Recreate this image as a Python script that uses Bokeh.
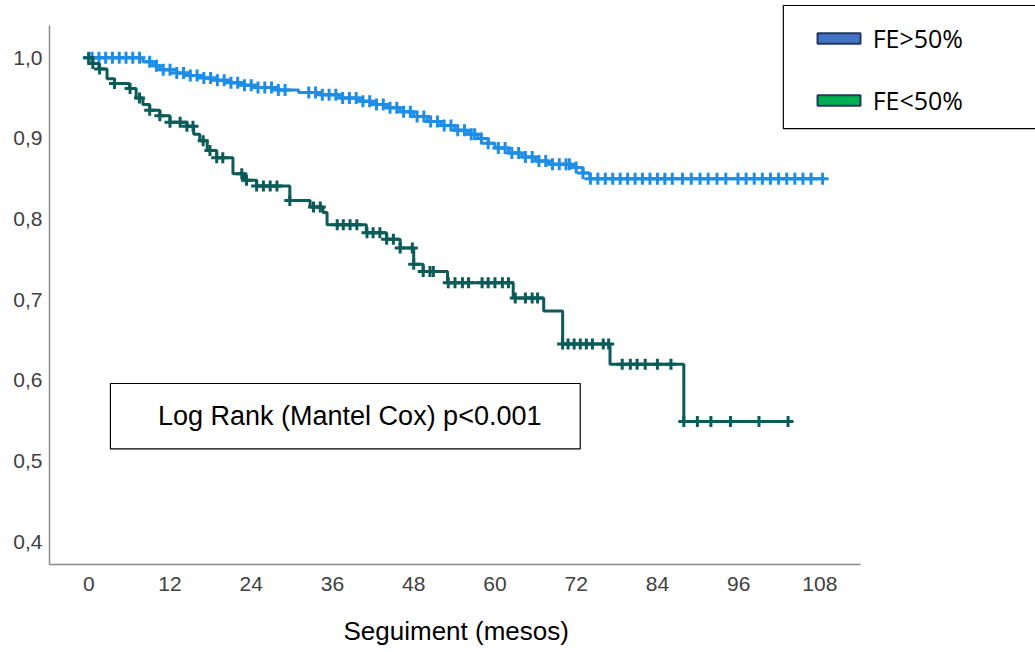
import numpy as np
from bokeh.plotting import figure
from bokeh.models import (Range1d, FixedTicker, BoxAnnotation, Label, ColumnDataSource,
                          Title)
from bokeh.embed import file_html
from bokeh.resources import INLINE

# ---- data ----
x_ticks = [0, 12, 24, 36, 48, 60, 72, 84, 96, 108]
y_ticks = [0.4, 0.5, 0.6, 0.7, 0.8, 0.9, 1.0]
y_tick_labels = ["0,4", "0,5", "0,6", "0,7", "0,8", "0,9", "1,0"]

# FE>50% : step times and survival
fe_hi_time = [0, 8, 9.5, 10.5, 13, 15, 17, 19, 21, 23, 25, 28, 31, 34, 37, 40, 42, 44,
              46, 48, 50, 52, 54, 56, 57.5, 59, 60, 62, 64, 66, 68, 71.5, 73, 74, 108.4]
fe_hi_surv = [1.0, 0.995, 0.99, 0.985, 0.981, 0.978, 0.975, 0.972, 0.969, 0.966, 0.963,
              0.96, 0.957, 0.954, 0.95, 0.946, 0.942, 0.938, 0.933, 0.927, 0.921, 0.916,
              0.91, 0.905, 0.9, 0.894, 0.888, 0.882, 0.877, 0.872, 0.868, 0.864, 0.857,
              0.85, 0.85]
fe_hi_censored = [0, 0.5, 1.5, 2.5, 3.5, 4.5, 5.5, 6.5, 7.5, 9, 10, 11, 12, 13, 14, 15, 16,
                  17, 18, 19, 20, 21, 22, 23, 24, 25, 26, 27, 28, 29, 32.5, 33.5, 34.5,
                  35.5, 36.5, 37.5, 38.5, 39.5, 40.5, 41.5, 42.5, 43.5, 44.5, 45.5, 46.5,
                  47.5, 48.5, 49.5, 50.5, 51.5, 52.5, 53.5, 54.5, 55.5, 56.5, 57, 58, 59,
                  60.5, 61.5, 62.5, 63.5, 64.5, 65.5, 66.5, 67.5, 68.5, 69.5, 70.5, 71,
                  72, 73, 74.1, 75.2, 76.3, 77.4, 78.5, 79.6, 80.7, 81.8, 82.9, 84.0, 85.1,
                  86.2, 87.7, 89.0, 90.3, 91.5, 92.8, 94.1, 95.9, 97.1, 98.3, 99.5, 100.7,
                  101.9, 103.1, 104.3, 105.5, 106.7, 108.4]

# FE<50%
fe_lo_time = [0, 0.6, 1.5, 2.7, 3.8, 6, 7, 8, 9, 10.5, 12, 14.5, 15.5, 16.4, 17.5, 18.9,
              21.3, 23, 24.8, 29.7, 32.7, 34.6, 35.2, 41, 44, 46, 48, 49.4, 53, 62.7,
              67.2, 70, 77, 87.9, 103.3]
fe_lo_surv = [1.0, 0.993, 0.986, 0.974, 0.968, 0.962, 0.95, 0.942, 0.935, 0.928, 0.92,
              0.915, 0.905, 0.897, 0.885, 0.876, 0.856, 0.848, 0.841, 0.823, 0.815, 0.808,
              0.793, 0.783, 0.775, 0.764, 0.744, 0.735, 0.721, 0.702, 0.686, 0.645,
              0.62, 0.549, 0.549]
fe_lo_censored = [0, 0.6, 1.6, 3.8, 6.1, 7.5, 9, 10.5, 12, 13.5, 14.5, 15.4, 16.9, 17.9,
                  18.9, 19.8, 22.6, 23.3, 24.8, 25.8, 26.8, 27.8, 29.7, 33.2, 34.2, 36.7,
                  37.6, 38.6, 39.6, 41.1, 42, 43, 44, 45, 46, 47.8, 48, 49.4, 50.4, 50.9,
                  53.1, 54.1, 55.2, 56.1, 58.1, 59, 60, 61.1, 62, 63, 64.5, 65.5, 66.3,
                  70, 70.8, 71.7, 72.6, 73.5, 74.4, 76, 76.8, 78.8, 80, 81, 82.2, 84, 86,
                  87.9, 89.9, 91.9, 94.8, 99, 103.3]

series_names = ["FE>50%", "FE<50%"]
line_colors = ["#1e8de6", "#0b5b58"]
legend_fill = ["#4472c4", "#00b050"]
x_title = "Seguiment (mesos)"


def surv_at(times, surv, t):
    idx = np.searchsorted(np.array(times), np.array(t), side="right") - 1
    return list(np.array(surv)[idx])


# frame covers the whole right/top area; axis lines limited with bounds
p = figure(width=1035, height=652, output_backend="svg", toolbar_location=None,
           x_range=Range1d(-5.8, 139.85), y_range=Range1d(0.3715, 1.071),
           min_border_left=49, min_border_right=0, min_border_top=0,
           min_border_bottom=88)
p.outline_line_color = None
p.xgrid.visible = False
p.ygrid.visible = False
p.background_fill_color = "white"
p.border_fill_color = "white"

for times, surv, cens, col, msize in [
        (fe_hi_time, fe_hi_surv, fe_hi_censored, line_colors[0], 12),
        (fe_lo_time, fe_lo_surv, fe_lo_censored, line_colors[1], 11)]:
    src = ColumnDataSource(dict(t=times, s=surv))
    p.step("t", "s", source=src, mode="after", line_color=col, line_width=3)
    csrc = ColumnDataSource(dict(t=cens, s=surv_at(times, surv, cens)))
    p.scatter("t", "s", source=csrc, marker="cross", size=msize, line_color=col,
              line_width=3)

for ax in (p.xaxis[0], p.yaxis[0]):
    ax.axis_line_color = "#8a8a8a"
    ax.axis_line_width = 1.5
    ax.major_tick_line_color = None
    ax.minor_tick_line_color = None
    ax.major_tick_out = 0
    ax.major_tick_in = 0
    ax.major_label_text_font = "Liberation Sans"
    ax.major_label_text_font_size = "21px"
    ax.major_label_text_color = "#404040"

p.xaxis.bounds = (-5.8, 114.0)
p.yaxis.bounds = (0.3715, 1.04)

p.xaxis.ticker = FixedTicker(ticks=x_ticks)
p.xaxis.major_label_standoff = 12

p.yaxis.ticker = FixedTicker(ticks=y_ticks)
p.yaxis.major_label_overrides = {t: lab for t, lab in zip(y_ticks, y_tick_labels)}
p.yaxis.major_label_standoff = 7

# x-axis title, placed under the axis part of the frame
p.add_layout(Title(text=x_title, align="left", offset=294, text_font="Liberation Sans",
                   text_font_size="26px", text_font_style="normal",
                   text_color="black", standoff=0,
                   padding=dict(left=0, right=0, top=20, bottom=0)), "below")

# Log rank annotation box
p.add_layout(BoxAnnotation(left=3.2, right=72.6, top=0.596, bottom=0.515,
                           fill_alpha=0, line_color="black", line_alpha=1,
                           line_width=1.2))
p.add_layout(Label(x=38.55, y=0.5555, text="Log Rank (Mantel Cox) p<0.001",
                   text_font="Liberation Sans", text_font_size="27px",
                   text_align="center", text_baseline="middle", text_color="black"))

# Legend box (extends past the right edge of the picture)
p.add_layout(BoxAnnotation(left=102.6, right=150, top=1.0648, bottom=0.9122,
                           fill_color="white", fill_alpha=1, line_color="black",
                           line_alpha=1, line_width=1.2))
leg_y = [1.024, 0.947]
for name, fc, yy in zip(series_names, legend_fill, leg_y):
    p.add_layout(BoxAnnotation(left=107.65, right=114.0, top=yy + 0.0065,
                               bottom=yy - 0.0065, fill_color=fc, fill_alpha=1,
                               line_color="#1f3864", line_alpha=1, line_width=2))
    p.add_layout(Label(x=115.8, y=yy, text=name, text_font="Open Sans",
                       text_font_size="25px", text_baseline="middle",
                       text_color="black"))

open("out.html", "w").write(file_html(p, INLINE))
